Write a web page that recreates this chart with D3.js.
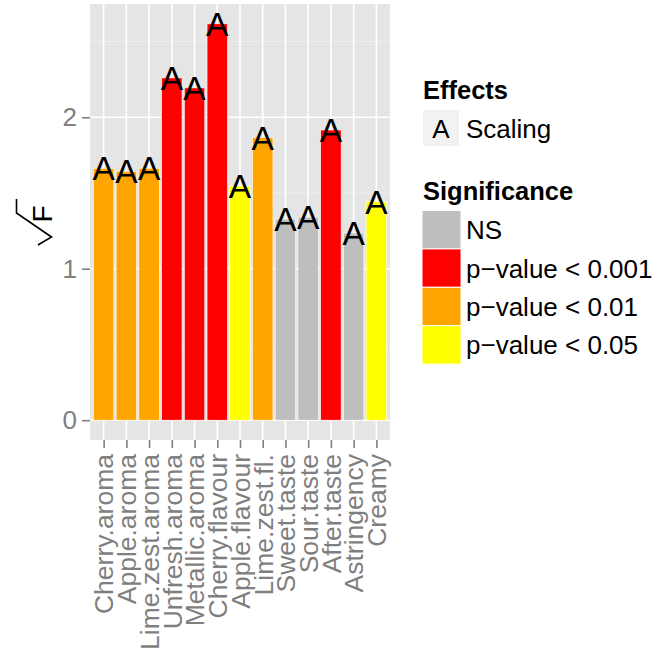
<!DOCTYPE html>
<html>
<head>
<meta charset="utf-8">
<script src="https://cdn.jsdelivr.net/npm/d3@7"></script>
<style>
  body { margin: 0; background: #fff; }
  text { font-family: "Liberation Sans", Arial, sans-serif; }
</style>
</head>
<body>
<div id="viz"></div>
<script>
const w = 657;
const h = 655;

// data
const attributes = ['Cherry.aroma', 'Apple.aroma', 'Lime.zest.aroma', 'Unfresh.aroma',
  'Metallic.aroma', 'Cherry.flavour', 'Apple.flavour', 'Lime.zest.fl.', 'Sweet.taste',
  'Sour.taste', 'After.taste', 'Astringency', 'Creamy'];
const sqrtF = [1.663, 1.643, 1.663, 2.26, 2.194, 2.617, 1.546, 1.866, 1.328, 1.341, 1.916, 1.236, 1.443];
const significance = ['p-value < 0.01', 'p-value < 0.01', 'p-value < 0.01', 'p-value < 0.001',
  'p-value < 0.001', 'p-value < 0.001', 'p-value < 0.05', 'p-value < 0.01', 'NS',
  'NS', 'p-value < 0.001', 'NS', 'p-value < 0.05'];
const effectLabel = 'A';
const sigLevels = ['NS', 'p-value < 0.001', 'p-value < 0.01', 'p-value < 0.05'];
const sigColors = ['#BEBEBE', '#FF0000', '#FFA500', '#FFFF00'];
const yTicks = [0, 1, 2];
const yMinor = [0.5, 1.5, 2.5];

const data = attributes.map((a, i) => ({ name: a, value: sqrtF[i], sig: significance[i] }));

const svg = d3.select('#viz').append('svg')
    .attr('width', w)
    .attr('height', h)

const pLeft = 90, pRight = 390, pTop = 4, pBottom = 440;

const x = d3.scalePoint()
    .domain(attributes)
    .range([pLeft, pRight])
    .padding(0.6)

const maxV = d3.max(sqrtF);
const y = d3.scaleLinear()
    .domain([-0.05 * maxV, maxV * 1.05])
    .range([pBottom, pTop])

const color = d3.scaleOrdinal()
    .domain(sigLevels)
    .range(sigColors)

// panel
svg.append('rect')
    .attr('x', pLeft)
    .attr('y', pTop)
    .attr('width', pRight - pLeft)
    .attr('height', pBottom - pTop)
    .attr('fill', '#E5E5E5')

svg.append('g').selectAll('line')
    .data(yMinor)
    .join('line')
    .attr('x1', pLeft).attr('x2', pRight)
    .attr('y1', d => y(d)).attr('y2', d => y(d))
    .attr('stroke', '#F2F2F2')
    .attr('stroke-width', 0.8)

svg.append('g').selectAll('line')
    .data(yTicks)
    .join('line')
    .attr('x1', pLeft).attr('x2', pRight)
    .attr('y1', d => y(d)).attr('y2', d => y(d))
    .attr('stroke', '#fff')
    .attr('stroke-width', 1.6)

svg.append('g').selectAll('line')
    .data(attributes)
    .join('line')
    .attr('x1', d => x(d)).attr('x2', d => x(d))
    .attr('y1', pTop).attr('y2', pBottom)
    .attr('stroke', '#fff')
    .attr('stroke-width', 1.6)

const bw = x.step() * 0.9;

svg.append('g').selectAll('rect')
    .data(data)
    .join('rect')
    .attr('x', d => x(d.name) - bw / 2)
    .attr('width', bw)
    .attr('y', d => y(d.value))
    .attr('height', d => y(0) - y(d.value))
    .attr('fill', d => color(d.sig))
    .attr('stroke', '#fff')
    .attr('stroke-width', 0.6)

svg.append('g').selectAll('text')
    .data(data)
    .join('text')
    .attr('x', d => x(d.name))
    .attr('y', d => y(d.value) + 12)
    .attr('text-anchor', 'middle')
    .attr('font-size', 33.5)
    .attr('fill', '#000')
    .text(effectLabel)

// axes
const yAxis = svg.append('g')
    .attr('transform', `translate(${pLeft},0)`)
    .call(d3.axisLeft(y).tickValues(yTicks).tickSize(8).tickPadding(5).tickFormat(d3.format('d')))
yAxis.select('.domain').remove()
yAxis.selectAll('line').attr('stroke', '#7F7F7F').attr('stroke-width', 1.6)
yAxis.selectAll('text').attr('fill', '#7F7F7F').attr('font-size', 26)
    .attr('font-family', '"Liberation Sans", Arial, sans-serif')

const xAxis = svg.append('g')
    .attr('transform', `translate(0,${pBottom})`)
    .call(d3.axisBottom(x).tickSize(8).tickPadding(0))
xAxis.select('.domain').remove()
xAxis.selectAll('line').attr('stroke', '#7F7F7F').attr('stroke-width', 1.6)
xAxis.selectAll('text')
    .attr('fill', '#7F7F7F')
    .attr('font-size', 26.5)
    .attr('font-family', '"Liberation Sans", Arial, sans-serif')
    .attr('text-anchor', 'end')
    .attr('transform', 'rotate(-90)')
    .attr('x', -14)
    .attr('y', 0)
    .attr('dy', '0.35em')

// y title: radical + F
const yTitle = svg.append('g')
yTitle.append('text')
    .attr('transform', 'translate(52,214) rotate(-90)')
    .attr('text-anchor', 'middle')
    .attr('font-size', 28)
    .attr('fill', '#000')
    .text('F')
yTitle.append('path')
    .attr('d', 'M16.5,199 L16.5,213 L51.5,237 L38,245')
    .attr('fill', 'none')
    .attr('stroke', '#000')
    .attr('stroke-width', 1.6)

// legend
const legend = svg.append('g')

legend.append('text')
    .attr('x', 423).attr('y', 99)
    .attr('font-size', 25.5).attr('font-weight', 'bold')
    .text('Effects')

legend.append('rect')
    .attr('x', 423).attr('y', 110)
    .attr('width', 36).attr('height', 36)
    .attr('fill', '#F2F2F2')

legend.append('text')
    .attr('x', 441).attr('y', 138)
    .attr('text-anchor', 'middle')
    .attr('font-size', 26)
    .text(effectLabel)

legend.append('text')
    .attr('x', 466).attr('y', 138)
    .attr('font-size', 26)
    .text('Scaling')

legend.append('text')
    .attr('x', 423).attr('y', 200)
    .attr('font-size', 25.5).attr('font-weight', 'bold')
    .text('Significance')

const keyH = 38.4;
const keys = legend.selectAll('.key')
    .data(sigLevels)
    .join('g')
    .attr('transform', (d, i) => `translate(422,${210.5 + i * keyH})`)

keys.append('rect')
    .attr('width', 39)
    .attr('height', keyH)
    .attr('fill', d => color(d))
    .attr('stroke', '#fff')
    .attr('stroke-width', 1)

keys.append('text')
    .attr('x', 44)
    .attr('y', keyH / 2 + 9.5)
    .attr('font-size', 26)
    .text(d => d.replace('-', '\u2212'))
</script>
</body>
</html>
